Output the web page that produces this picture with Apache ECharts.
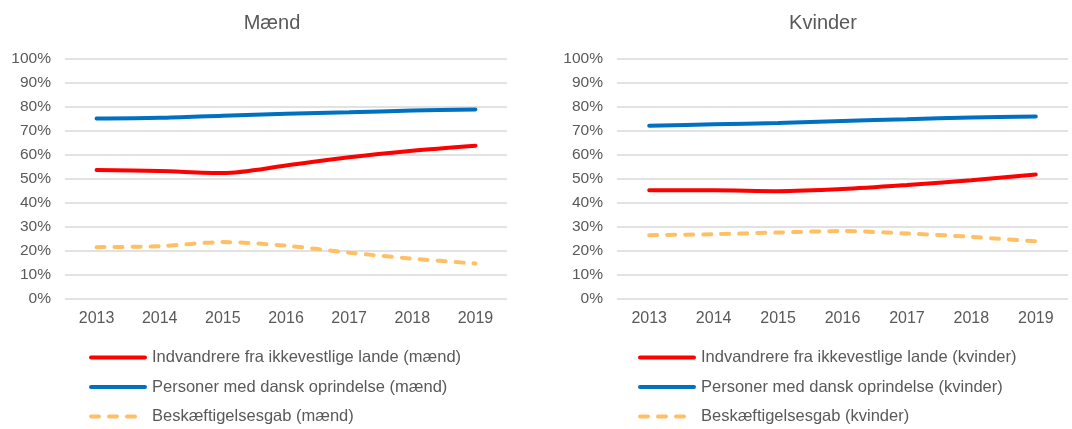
<!DOCTYPE html>
<html><head><meta charset="utf-8">
<script src="https://cdn.jsdelivr.net/npm/echarts@6/dist/echarts.min.js"></script>
<style>html,body{margin:0;padding:0;background:#fff}#c{width:1072px;height:429px}</style>
</head><body><div id="c"></div>
<script>
const years = ['2013','2014','2015','2016','2017','2018','2019'];
const yTicks = [0,10,20,30,40,50,60,70,80,90,100];
const titles = ['Mænd','Kvinder'];
// Mænd
const menImmigrants = [53.7,53.3,52.5,55.6,59.1,61.8,63.9];
const menDanish = [75.2,75.5,76.4,77.2,77.8,78.5,79.0];
const menGap = [21.6,22.0,23.7,22.2,19.3,16.8,14.8];
// Kvinder
const womenImmigrants = [45.3,45.3,44.9,45.8,47.5,49.5,51.9];
const womenDanish = [72.2,72.8,73.3,74.2,74.9,75.6,76.0];
const womenGap = [26.6,27.0,27.7,28.3,27.3,25.9,24.0];
const names = [
  ['Indvandrere fra ikkevestlige lande (mænd)','Personer med dansk oprindelse (mænd)','Beskæftigelsesgab (mænd)'],
  ['Indvandrere fra ikkevestlige lande (kvinder)','Personer med dansk oprindelse (kvinder)','Beskæftigelsesgab (kvinder)']
];

const font = 'Liberation Sans, Arial, sans-serif';
const txt = '#595959';
const colors = ['#ff0000','#0070c0','#ffc065'];
const data = [[menImmigrants,menDanish,menGap],[womenImmigrants,womenDanish,womenGap]];
const grids = [{left:65,right:565,top:59,height:240},{left:617,right:4,top:59,height:240}];

const chart = echarts.init(document.getElementById('c'));
const series = [];
data.forEach((set,g)=>{
  set.forEach((vals,i)=>{
    series.push({
      name:names[g][i], type:'line', xAxisIndex:g, yAxisIndex:g,
      data:vals, smooth:0.3, symbol:'none',
      lineStyle:{color:colors[i], width:4, type: i===2 ? [8,10] : 'solid', cap:'round'},
      itemStyle:{color:colors[i]}
    });
  });
});
chart.setOption({
  animation:false,
  title: titles.map((t,g)=>({text:t, left: g===0 ? 267 : 818, top:8, textAlign:'center',
    textStyle:{fontFamily:font, fontSize:20, fontWeight:'normal', color:txt}})),
  grid: grids,
  xAxis: [0,1].map(g=>({type:'category', gridIndex:g, data:years, boundaryGap:true,
    axisLine:{show:false}, axisTick:{show:false},
    axisLabel:{fontFamily:font, fontSize:16, color:txt, margin:12}})),
  yAxis: [0,1].map(g=>({type:'value', gridIndex:g, min:yTicks[0], max:yTicks[yTicks.length-1], interval:10,
    axisLine:{show:false}, axisTick:{show:false},
    splitLine:{lineStyle:{color:'#d9d9d9', width:1.5}},
    axisLabel:{fontFamily:font, fontSize:15.5, color:txt, margin:14, formatter:v=>v+'%'}})),
  legend: [0,1].map(g=>({orient:'vertical', left: g===0 ? 89 : 638, top:349, height:90, padding:0,
    itemWidth:54, itemHeight:14, itemGap:12.5, data:names[g],
    itemStyle:{opacity:0},
    lineStyle:{width:4},
    textStyle:{fontFamily:font, fontSize:16.5, color:txt, padding:[0,0,0,2]}})),
  series
});
</script></body></html>
